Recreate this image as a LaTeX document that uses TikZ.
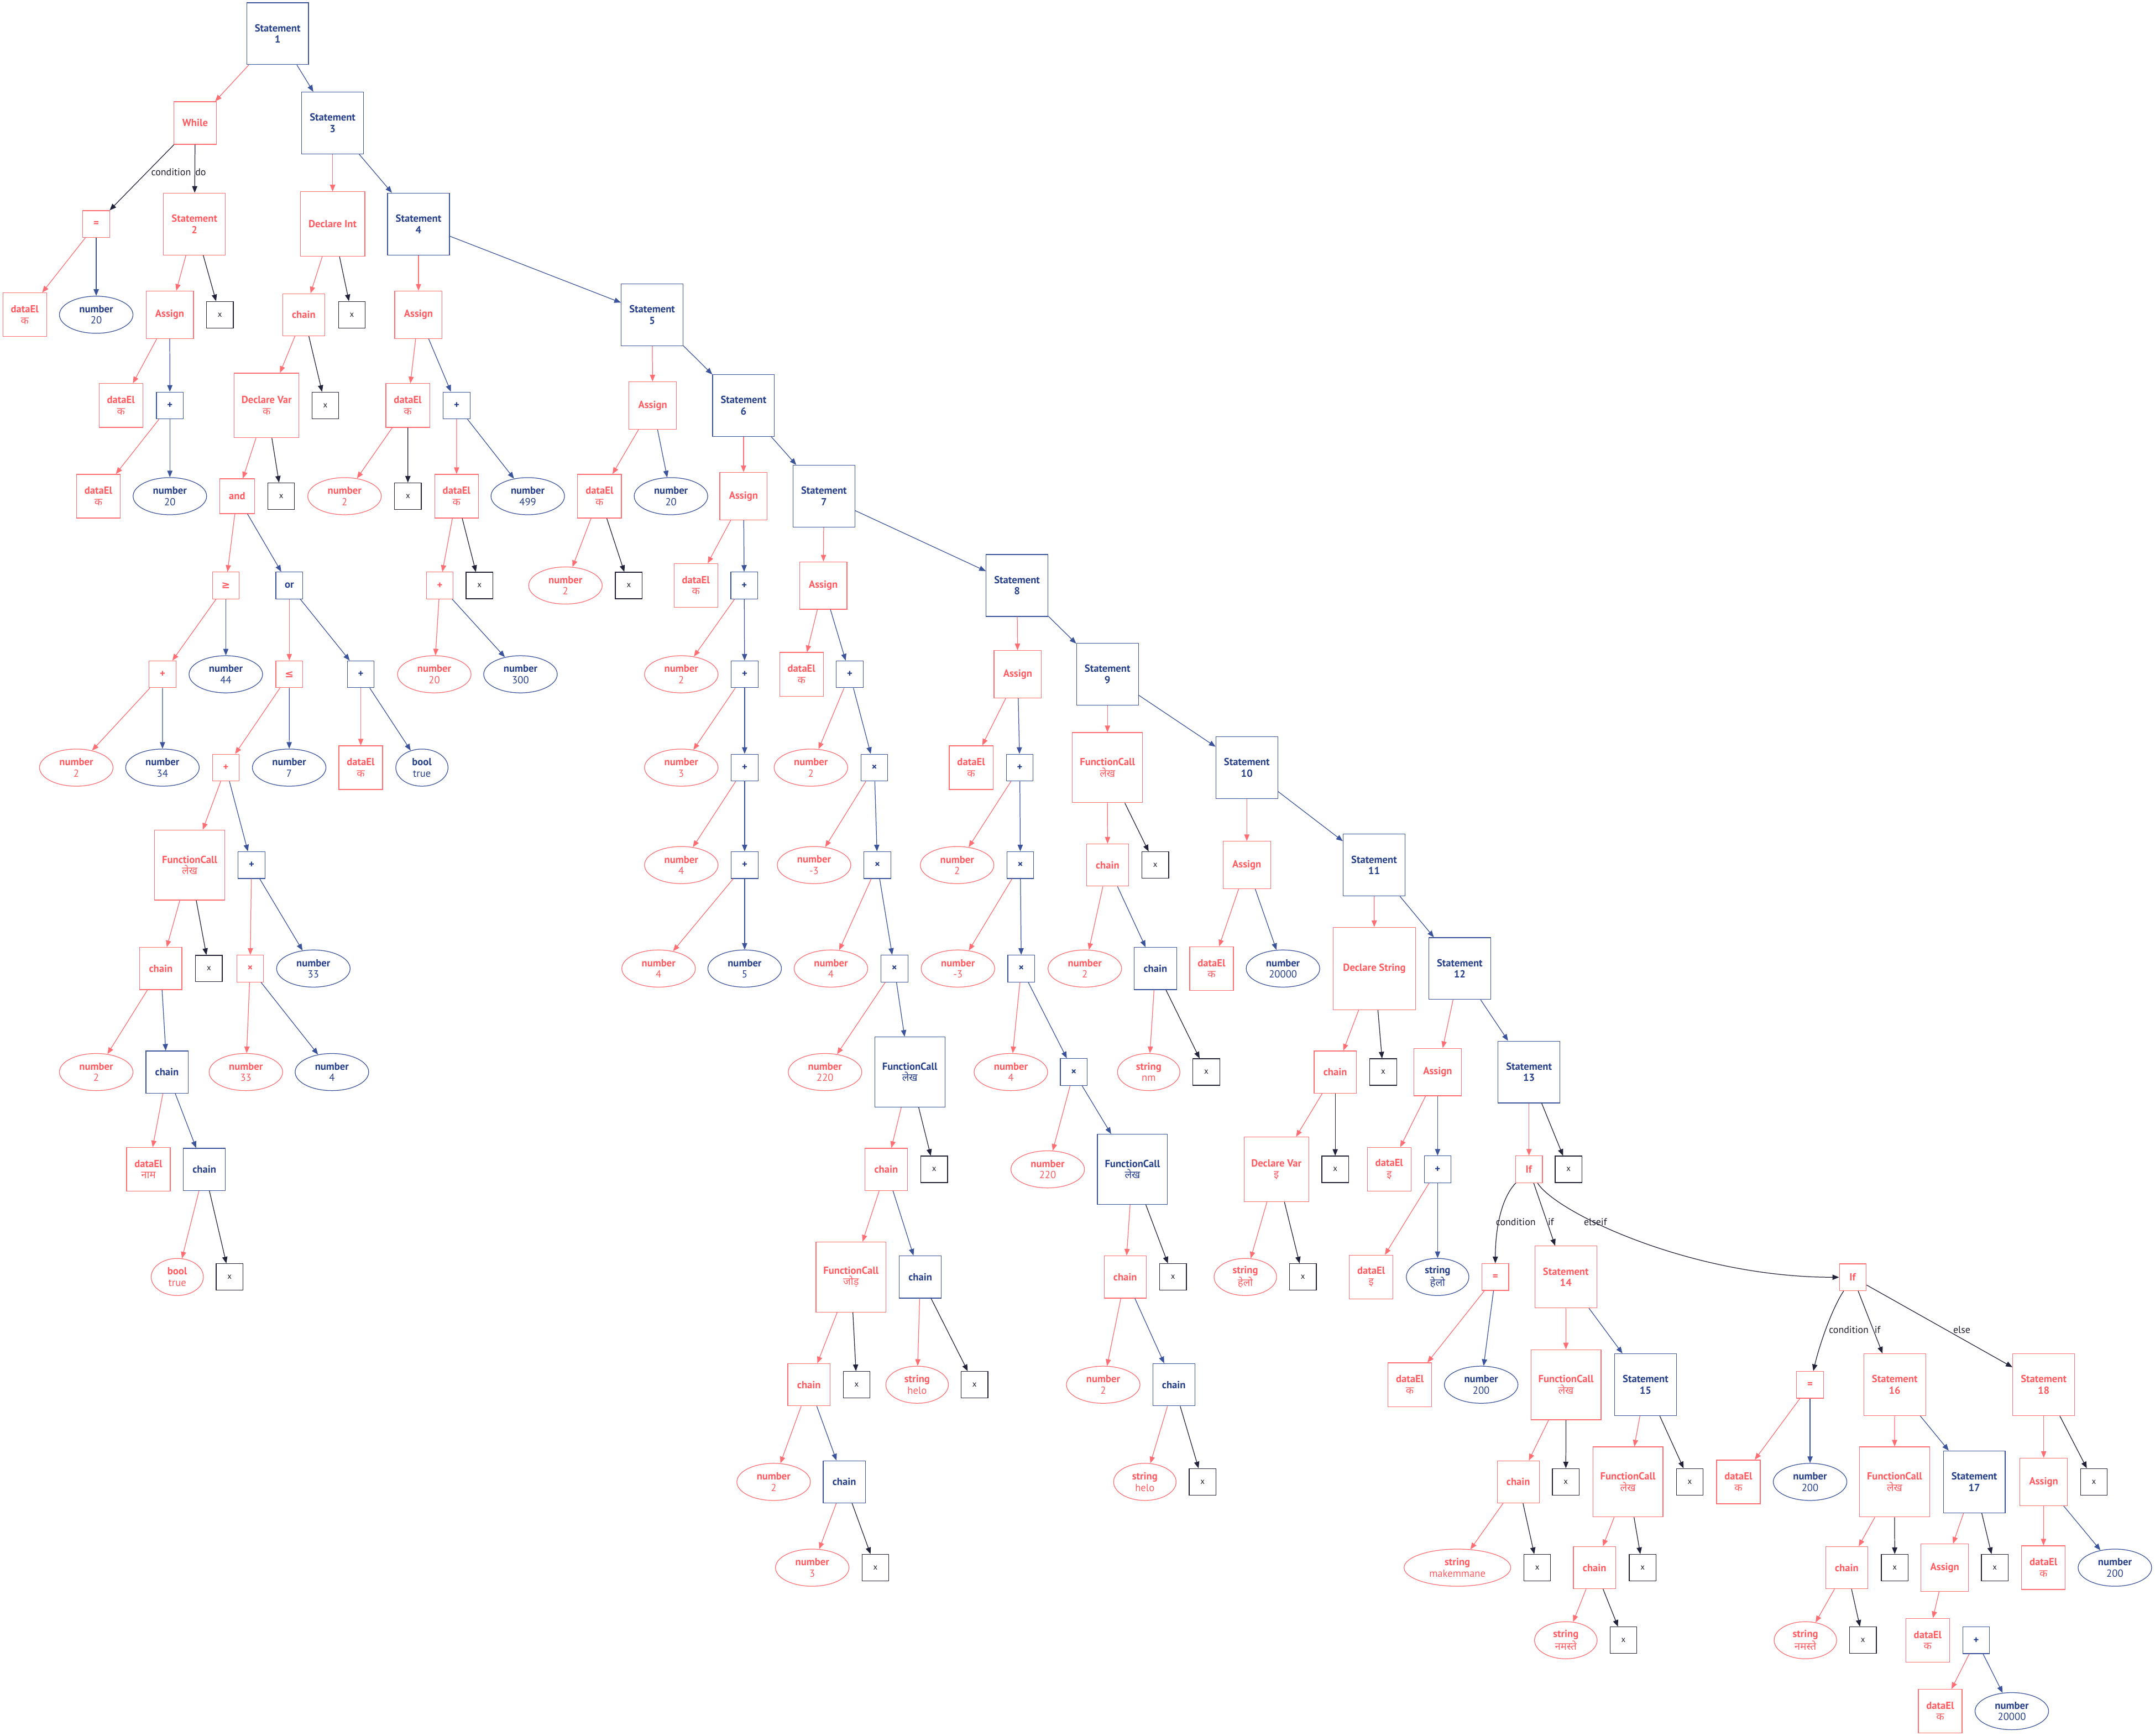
\documentclass[tikz,border=0pt]{standalone}
\usepackage{fontspec}
\setmainfont{PT Sans}
\newfontfamily\devf[Script=Devanagari]{Noto Sans}
\newfontfamily\symf{DejaVu Sans}
\usetikzlibrary{arrows.meta,shapes.geometric}
\definecolor{rt}{HTML}{FF5A5F}
\definecolor{rl}{HTML}{FF6E73}
\definecolor{bt}{HTML}{263F8A}
\definecolor{bl}{HTML}{3A539B}
\definecolor{kl}{HTML}{22223A}
\definecolor{kt}{HTML}{1E1E2C}
\newcommand\nf{\fontsize{7.5pt}{8.2pt}\selectfont}
\newcommand\xf{\fontsize{6pt}{6.5pt}\selectfont}
\newcommand\lf{\fontsize{7.2pt}{8pt}\selectfont}
\newcommand\twoL[2]{\textbf{#1}\\#2}
\newcommand\stmt[1]{\textbf{Statement}\\\textbf{#1}}
\newcommand\deva[1]{{\devf #1}}
\newcommand\dEl[1]{\twoL{dataEl}{\deva{#1}}}
\newcommand\numb[1]{\twoL{number}{#1}}
\newcommand\strg[1]{\twoL{string}{#1}}
\newcommand\fcall[1]{\twoL{FunctionCall}{\deva{#1}}}
\newcommand\opb[1]{\textbf{#1}}
\newcommand\ops[1]{{\symf\bfseries #1}}
\tikzset{
  nd/.style={inner sep=0pt, line width=0.5pt, align=center, font=\nf},
  rN/.style={nd, draw=rl, text=rt},
  bN/.style={nd, draw=bl, text=bt},
  rx/.style={rN, rectangle, minimum width=#1pt, minimum height=#1pt},
  bx/.style={bN, rectangle, minimum width=#1pt, minimum height=#1pt},
  re/.style={rN, ellipse, minimum width=#1pt, minimum height=27pt},
  be/.style={bN, ellipse, minimum width=#1pt, minimum height=27pt},
  xb/.style={nd, rectangle, draw=kl, text=kt, minimum width=19.5pt, minimum height=19.3pt, font=\xf},
  er/.style={draw=rl, line width=0.5pt, -{Triangle[length=4.8pt,width=3.8pt]}},
  eb/.style={draw=bl, line width=0.5pt, -{Triangle[length=4.8pt,width=3.8pt]}},
  ek/.style={draw=kl, line width=0.5pt, -{Triangle[length=4.8pt,width=3.8pt]}},
  lb/.style={font=\lf, text=kt, inner sep=0pt},
}
\begin{document}
\begin{tikzpicture}[x=1pt,y=-1pt]
\useasboundingbox (0,0) rectangle (1568,1263);
% L0
\node[bx=45] (s1) at (202,24.5) {\stmt{1}};
% L1
\node[rx=31] (while) at (142,89.5) {\opb{While}};
\node[bx=45] (s3) at (242,89.5) {\stmt{3}};
% L2
\node[rx=19.5] (eq1) at (70,163) {\opb{=}};
\node[rx=45] (s2) at (141.5,163) {\stmt{2}};
\node[rx=47] (dint) at (242,163) {\opb{Declare Int}};
\node[bx=45] (s4) at (304.5,163) {\stmt{4}};
% L3
\node[rx=31.8] (de1) at (18,229) {\dEl{क}};
\node[be=53.5] (n1) at (70,229) {\numb{20}};
\node[rx=34.5] (as2) at (123.5,229) {\opb{Assign}};
\node[xb] (x2) at (160,229) {x};
\node[rx=30.7] (ch1) at (221,229) {\opb{chain}};
\node[xb] (xdi) at (256,229) {x};
\node[rx=34.5] (as4) at (304.5,229) {\opb{Assign}};
\node[bx=45] (s5) at (474.5,229) {\stmt{5}};
% L4
\node[rx=31.8] (de2) at (88,295) {\dEl{क}};
\node[bx=19.5] (pl2) at (123.6,295) {\opb{+}};
\node[rx=47] (dv1) at (194,295) {\twoL{Declare Var}{\deva{क}}};
\node[xb] (xch1) at (236.7,295) {x};
\node[rx=31.8] (de4) at (296.7,295) {\dEl{क}};
\node[bx=19.5] (pl4) at (332.3,295) {\opb{+}};
\node[rx=34.5] (as5) at (474.9,295) {\opb{Assign}};
\node[bx=45] (s6) at (541,295) {\stmt{6}};
% L5
\node[rx=31.8] (de3) at (71.6,361) {\dEl{क}};
\node[be=53.5] (n2) at (123.6,361) {\numb{20}};
\node[rx=25.3] (and) at (172.5,361) {\opb{and}};
\node[xb] (xdv1) at (204.6,361) {x};
\node[re=53.5] (n4a) at (250.7,361) {\numb{2}};
\node[xb] (xde4) at (296.8,361) {x};
\node[rx=31.8] (de4b) at (332.2,361) {\dEl{क}};
\node[be=53.5] (n499) at (384,361) {\numb{499}};
\node[rx=31.8] (de5) at (436.2,361) {\dEl{क}};
\node[be=53.5] (n5) at (488.2,361) {\numb{20}};
\node[rx=34.5] (as6) at (541,361) {\opb{Assign}};
\node[bx=45] (s7) at (599.5,361) {\stmt{7}};
% L6
\node[rx=19.5] (ge) at (164.3,426) {\ops{≥}};
\node[bx=19.5] (or) at (210.5,426) {\opb{or}};
\node[rx=19.5] (pl4b) at (320,426) {\opb{+}};
\node[xb] (xde4b) at (348.8,426) {x};
\node[re=53.5] (n5b) at (411.4,426) {\numb{2}};
\node[xb] (xde5) at (457.5,426) {x};
\node[rx=31.8] (de6) at (506.3,426) {\dEl{क}};
\node[bx=19.5] (pl6a) at (541.5,426) {\opb{+}};
\node[rx=34.5] (as7) at (599,426) {\opb{Assign}};
\node[bx=45] (s8) at (740,426) {\stmt{8}};
% L7
\node[rx=19.5] (plL) at (118.3,490.6) {\opb{+}};
\node[be=53.5] (n44) at (164.3,490.6) {\numb{44}};
\node[rx=19.5] (le) at (210.5,490.6) {\ops{≤}};
\node[bx=19.5] (plR) at (262.5,490.6) {\opb{+}};
\node[re=53.5] (n20r) at (316,490.6) {\numb{20}};
\node[be=53.5] (n300) at (378.7,490.6) {\numb{300}};
\node[re=53.5] (n6a) at (495.7,490.6) {\numb{2}};
\node[bx=19.5] (pl6b) at (541.8,490.6) {\opb{+}};
\node[rx=31.8] (de7) at (583.2,490.6) {\dEl{क}};
\node[bx=19.5] (pl7a) at (618.3,490.6) {\opb{+}};
\node[rx=34.5] (as8) at (740.5,490.6) {\opb{Assign}};
\node[bx=45] (s9) at (805.8,490.6) {\stmt{9}};
% L8
\node[re=53.5] (n2L) at (55.5,558.5) {\numb{2}};
\node[be=53.5] (n34) at (118.2,558.5) {\numb{34}};
\node[rx=19.5] (plM) at (164.3,558.5) {\opb{+}};
\node[be=53.5] (n7) at (210.4,558.5) {\numb{7}};
\node[rx=31.8] (deR) at (262.5,558.5) {\dEl{क}};
\node[be=38] (btrue) at (307,558.5) {\twoL{bool}{true}};
\node[re=53.5] (n6b) at (495.7,558.5) {\numb{3}};
\node[bx=19.5] (pl6c) at (541.8,558.5) {\opb{+}};
\node[re=53.5] (n7a) at (590,558.5) {\numb{2}};
\node[bx=19.5] (mu7a) at (636.2,558.5) {\opb{×}};
\node[rx=31.8] (de8) at (706.6,558.5) {\dEl{क}};
\node[bx=19.5] (pl8) at (742,558.5) {\opb{+}};
\node[rx=51] (fc9) at (805.8,558.5) {\fcall{लेख}};
\node[bx=45] (s10) at (907.2,558.5) {\stmt{10}};
% L9
\node[rx=51] (fcL) at (138,629.4) {\fcall{लेख}};
\node[bx=19.5] (plN) at (183,629.4) {\opb{+}};
\node[re=53.5] (n6c) at (495.7,629.4) {\numb{4}};
\node[bx=19.5] (pl6d) at (541.8,629.4) {\opb{+}};
\node[re=53.5] (n7b) at (592.3,629.4) {\numb{-3}};
\node[bx=19.5] (mu7b) at (638.4,629.4) {\opb{×}};
\node[re=53.5] (n8a) at (696.4,629.4) {\numb{2}};
\node[bx=19.5] (mu8a) at (742.4,629.4) {\opb{×}};
\node[rx=30.7] (ch9) at (805.9,629.4) {\opb{chain}};
\node[xb] (xfc9) at (840.6,629.4) {x};
\node[rx=34.5] (as10) at (907.2,629.4) {\opb{Assign}};
\node[bx=45] (s11) at (999.8,629.4) {\stmt{11}};
% L10
\node[rx=30.7] (chL) at (117,704.7) {\opb{chain}};
\node[xb] (xfcL) at (152,704.7) {x};
\node[rx=19.5] (muL) at (182,704.7) {\opb{×}};
\node[be=53.5] (n33) at (228,704.7) {\numb{33}};
\node[re=53.5] (n6d) at (479.2,704.7) {\numb{4}};
\node[be=53.5] (n6e) at (541.8,704.7) {\numb{5}};
\node[re=53.5] (n7c) at (604.6,704.7) {\numb{4}};
\node[bx=19.5] (mu7c) at (650.8,704.7) {\opb{×}};
\node[re=53.5] (n8b) at (697,704.7) {\numb{-3}};
\node[bx=19.5] (mu8b) at (743.1,704.7) {\opb{×}};
\node[re=53.5] (n9) at (789.3,704.7) {\numb{2}};
\node[bx=30.7] (ch9b) at (840.7,704.7) {\opb{chain}};
\node[rx=31.8] (de10) at (881.5,704.7) {\dEl{क}};
\node[be=53.5] (n10) at (933.5,704.7) {\numb{20000}};
\node[rx=60] (dstr) at (1000,704.7) {\opb{Declare String}};
\node[bx=45] (s12) at (1062.1,704.7) {\stmt{12}};
% L11
\node[re=53.5] (n2M) at (70,780) {\numb{2}};
\node[bx=30.7] (chLb) at (121.5,780) {\opb{chain}};
\node[re=53.5] (n33r) at (178.9,780) {\numb{33}};
\node[be=53.5] (n4b) at (241.5,780) {\numb{4}};
\node[re=53.5] (n220a) at (600.3,780) {\numb{220}};
\node[bx=51] (fc7) at (662,780) {\fcall{लेख}};
\node[re=53.5] (n4c) at (735.5,780) {\numb{4}};
\node[bx=19.5] (mu8c) at (781.3,780) {\opb{×}};
\node[re=45.4] (snm) at (835.8,780) {\strg{nm}};
\node[xb] (xch9b) at (877.7,780) {x};
\node[rx=30.7] (ch11) at (971.5,780) {\opb{chain}};
\node[xb] (xds) at (1006.4,780) {x};
\node[rx=34.5] (as12) at (1046,780) {\opb{Assign}};
\node[bx=45] (s13) at (1112.5,780) {\stmt{13}};
% L12
\node[rx=31.8] (deNam) at (108,850.8) {\dEl{नाम}};
\node[bx=30.7] (chLc) at (148.7,850.8) {\opb{chain}};
\node[rx=30.7] (ch7) at (644.8,850.8) {\opb{chain}};
\node[xb] (xfc7) at (679.7,850.8) {x};
\node[re=53.5] (n220b) at (762.3,850.8) {\numb{220}};
\node[bx=51] (fc8) at (824,850.8) {\fcall{लेख}};
\node[rx=47] (dv2) at (928.7,850.8) {\twoL{Declare Var}{\deva{इ}}};
\node[xb] (xch11) at (971.5,850.8) {x};
\node[rx=31.8] (de12) at (1010.8,850.8) {\dEl{इ}};
\node[bx=19.5] (pl12) at (1046,850.8) {\opb{+}};
\node[rx=19.5] (if1) at (1112.5,850.8) {\opb{If}};
\node[xb] (xs13) at (1141.3,850.8) {x};
% L13
\node[re=38] (bTrue) at (129,929.1) {\twoL{bool}{true}};
\node[xb] (xchLc) at (167,929.1) {x};
\node[rx=51] (fcJ) at (619.2,929.1) {\fcall{जोड़}};
\node[bx=30.7] (ch7b) at (669.6,929.1) {\opb{chain}};
\node[rx=30.7] (ch8) at (818.7,929.1) {\opb{chain}};
\node[xb] (xfc8) at (853.5,929.1) {x};
\node[re=45.5] (sHr) at (906.1,929.1) {\strg{\deva{हेलो}}};
\node[xb] (xdv2) at (948,929.1) {x};
\node[rx=31.8] (de12b) at (997.7,929.1) {\dEl{इ}};
\node[be=45.5] (sHb) at (1046,929.1) {\strg{\deva{हेलो}}};
\node[rx=19.5] (eq13) at (1088,929.1) {\opb{=}};
\node[rx=45] (s14) at (1139.3,929.1) {\stmt{14}};
\node[rx=19.5] (if2) at (1348.1,929.3) {\opb{If}};
% L14
\node[rx=30.7] (ch7c) at (588.6,1007.5) {\opb{chain}};
\node[xb] (xfcJ) at (623.3,1007.5) {x};
\node[re=45.5] (shelo1) at (667.3,1007.5) {\strg{helo}};
\node[xb] (xch7b) at (709.1,1007.5) {x};
\node[re=53.5] (n2N) at (802.7,1007.5) {\numb{2}};
\node[bx=30.7] (ch8b) at (854.1,1007.5) {\opb{chain}};
\node[rx=31.8] (de13) at (1025.8,1007.5) {\dEl{क}};
\node[be=53.5] (n200a) at (1077.7,1007.5) {\numb{200}};
\node[rx=51] (fc14) at (1139.4,1007.5) {\fcall{लेख}};
\node[bx=45] (s15) at (1197.3,1007.5) {\stmt{15}};
\node[rx=19.5] (eq16) at (1317,1007.5) {\opb{=}};
\node[rx=45] (s16) at (1378.6,1007.5) {\stmt{16}};
\node[rx=45] (s18) at (1487,1007.5) {\stmt{18}};
% L15
\node[re=53.5] (n2O) at (562.9,1078.2) {\numb{2}};
\node[bx=30.7] (ch7d) at (614.3,1078.2) {\opb{chain}};
\node[re=45.5] (shelo2) at (833,1078.2) {\strg{helo}};
\node[xb] (xch8b) at (875,1078.2) {x};
\node[rx=30.7] (ch14) at (1104.7,1078.2) {\opb{chain}};
\node[xb] (xfc14) at (1139.3,1078.2) {x};
\node[rx=51] (fc15) at (1184.5,1078.2) {\fcall{लेख}};
\node[xb] (xs15) at (1229.5,1078.2) {x};
\node[rx=31.8] (de16) at (1264.9,1078.2) {\dEl{क}};
\node[be=53.5] (n200b) at (1317,1078.2) {\numb{200}};
\node[rx=51] (fc16) at (1378.5,1078.2) {\fcall{लेख}};
\node[bx=45] (s17) at (1436.5,1078.2) {\stmt{17}};
\node[rx=34.5] (as18) at (1487,1078.2) {\opb{Assign}};
\node[xb] (xs18) at (1523.5,1078.2) {x};
% L16
\node[re=53.5] (n3) at (591,1140.6) {\numb{3}};
\node[xb] (xch7d) at (637,1140.6) {x};
\node[re=77.6] (smak) at (1060.4,1140.6) {\strg{makemmane}};
\node[xb] (xch14) at (1118.5,1140.6) {x};
\node[rx=30.7] (ch15) at (1160.2,1140.6) {\opb{chain}};
\node[xb] (xfc15) at (1195.2,1140.6) {x};
\node[rx=30.7] (ch16) at (1343.7,1140.6) {\opb{chain}};
\node[xb] (xfc16) at (1378.6,1140.6) {x};
\node[rx=34.5] (as17) at (1415,1140.6) {\opb{Assign}};
\node[xb] (xs17) at (1451.4,1140.6) {x};
\node[rx=31.8] (de18) at (1486.8,1140.6) {\dEl{क}};
\node[be=53.5] (n200c) at (1538.8,1140.6) {\numb{200}};
% L17
\node[re=45.5] (snam1) at (1139.3,1193.4) {\strg{\deva{नमस्ते}}};
\node[xb] (xch15) at (1181.2,1193.4) {x};
\node[re=45.5] (snam2) at (1313.6,1193.4) {\strg{\deva{नमस्ते}}};
\node[xb] (xch16) at (1355.5,1193.4) {x};
\node[rx=31.8] (de17) at (1402.6,1193.4) {\dEl{क}};
\node[bx=19.5] (pl17) at (1437.9,1193.4) {\opb{+}};
% L18
\node[rx=31.8] (de17b) at (1411.7,1245) {\dEl{क}};
\node[be=53.5] (n20000b) at (1463.8,1245) {\numb{20000}};
% edge labels
\node[lb] (l1) at (124.5,125.3) {condition};
\node[lb] (l2) at (146,125.3) {do};
\node[lb] (l3) at (1102.9,889.1) {condition};
\node[lb] (l4) at (1128.5,889.1) {if};
\node[lb] (l5) at (1160.8,889.1) {elseif};
\node[lb] (l6) at (1345.2,967.5) {condition};
\node[lb] (l7) at (1366.1,967.5) {if};
\node[lb] (l8) at (1427.4,967.5) {else};
% red edges
\foreach \a/\b in {s1/while, eq1/de1, s2/as2, as2/de2, pl2/de3, s3/dint, dint/ch1, ch1/dv1, dv1/and, and/ge, ge/plL, plL/n2L, or/le, le/plM, plR/deR, plM/fcL, fcL/chL, plN/muL, chL/n2M, muL/n33r, chLb/deNam, chLc/bTrue, s4/as4, as4/de4, de4/n4a, pl4/de4b, de4b/pl4b, pl4b/n20r, s5/as5, as5/de5, de5/n5b, s6/as6, as6/de6, pl6a/n6a, pl6b/n6b, pl6c/n6c, pl6d/n6d, s7/as7, as7/de7, pl7a/n7a, mu7a/n7b, mu7b/n7c, mu7c/n220a, fc7/ch7, ch7/fcJ, fcJ/ch7c, ch7b/shelo1, ch7c/n2O, ch7d/n3, s8/as8, as8/de8, pl8/n8a, mu8a/n8b, mu8b/n4c, mu8c/n220b, fc8/ch8, ch8/n2N, ch8b/shelo2, s9/fc9, fc9/ch9, ch9/n9, ch9b/snm, s10/as10, as10/de10, s11/dstr, dstr/ch11, ch11/dv2, dv2/sHr, s12/as12, as12/de12, pl12/de12b, s13/if1, eq13/de13, s14/fc14, fc14/ch14, ch14/smak, s15/fc15, fc15/ch15, ch15/snam1, eq16/de16, s16/fc16, fc16/ch16, ch16/snam2, s17/as17, as17/de17, pl17/de17b, s18/as18, as18/de18}
  \draw[er] (\a) -- (\b);
% blue edges
\foreach \a/\b in {s1/s3, eq1/n1, as2/pl2, pl2/n2, s3/s4, and/or, ge/n44, plL/n34, or/plR, le/n7, plR/btrue, plM/plN, plN/n33, chL/chLb, muL/n4b, chLb/chLc, s4/s5, as4/pl4, pl4/n499, pl4b/n300, s5/s6, as5/n5, s6/s7, as6/pl6a, pl6a/pl6b, pl6b/pl6c, pl6c/pl6d, pl6d/n6e, s7/s8, as7/pl7a, pl7a/mu7a, mu7a/mu7b, mu7b/mu7c, mu7c/fc7, ch7/ch7b, ch7c/ch7d, s8/s9, as8/pl8, pl8/mu8a, mu8a/mu8b, mu8b/mu8c, mu8c/fc8, ch8/ch8b, s9/s10, ch9/ch9b, s10/s11, as10/n10, s11/s12, s12/s13, as12/pl12, pl12/sHb, eq13/n200a, s14/s15, eq16/n200b, s16/s17, pl17/n20000b, as18/n200c}
  \draw[eb] (\a) -- (\b);
% black edges
\foreach \a/\b in {s2/x2, dint/xdi, ch1/xch1, dv1/xdv1, fcL/xfcL, chLc/xchLc, de4/xde4, de4b/xde4b, de5/xde5, fc7/xfc7, fcJ/xfcJ, ch7b/xch7b, ch7d/xch7d, fc8/xfc8, ch8b/xch8b, fc9/xfc9, ch9b/xch9b, dstr/xds, ch11/xch11, dv2/xdv2, s13/xs13, fc14/xfc14, ch14/xch14, s15/xs15, fc15/xfc15, ch15/xch15, fc16/xfc16, ch16/xch16, s17/xs17, s18/xs18, while/eq1, while/s2, if1/s14, if2/s16, if2/s18}
  \draw[ek] (\a) -- (\b);
\draw[ek] (if1) .. controls (1092,872) and (1088,895) .. (eq13);
\draw[ek] (if1) .. controls (1132,882) and (1230,929.3) .. (if2);
\draw[ek] (if2) .. controls (1333,952) and (1324,978) .. (eq16);
\end{tikzpicture}
\end{document}
